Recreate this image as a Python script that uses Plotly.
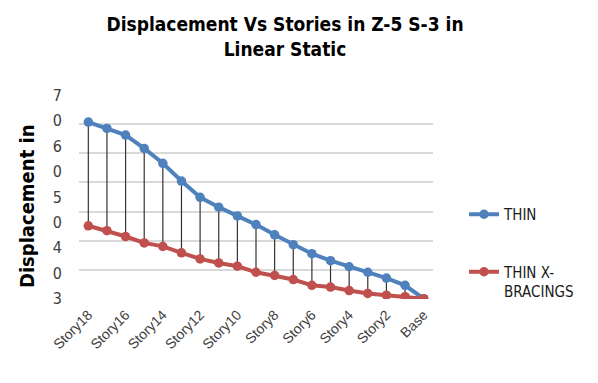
import plotly.graph_objects as go

# Story levels from top to base
stories = ["Story18", "Story17", "Story16", "Story15", "Story14", "Story13", "Story12",
           "Story11", "Story10", "Story9", "Story8", "Story7", "Story6", "Story5",
           "Story4", "Story3", "Story2", "Story1", "Base"]

# Displacement values per story (axis units)
thin = [6.08, 5.86, 5.63, 5.17, 4.66, 4.05, 3.49, 3.15, 2.85, 2.55, 2.20,
        1.86, 1.55, 1.31, 1.10, 0.91, 0.71, 0.46, 0.0]
thin_xbr = [2.51, 2.34, 2.14, 1.92, 1.80, 1.58, 1.37, 1.23, 1.12, 0.91, 0.80,
            0.66, 0.46, 0.40, 0.28, 0.18, 0.12, 0.07, 0.0]

# Value-axis labels (bottom to top) and gridline levels
y_tick_text = ["3", "0", "4", "0", "5", "0", "6", "0", "7"]
grid_levels = [0, 1, 2, 3, 4, 5, 6, 7]
x_tick_labels = stories[::2]

COND = "DejaVu Sans Condensed, Liberation Sans, Arial, sans-serif"
SANS = "Liberation Sans, Arial, sans-serif"
BLUE = "#4F81BD"
RED = "#C0504D"

fig = go.Figure()

# high-low drop lines joining both series at each story
dx, dy = [], []
for s, a, b in zip(stories, thin, thin_xbr):
    dx += [s, s, None]
    dy += [a, b, None]
fig.add_trace(go.Scatter(x=dx, y=dy, mode="lines", line=dict(color="#333333", width=1.2),
                         showlegend=False, hoverinfo="skip"))

fig.add_trace(go.Scatter(x=stories, y=thin, name="THIN", legendgroup="a",
                         mode="lines+markers",
                         line=dict(color=BLUE, width=4),
                         marker=dict(symbol="circle", size=9.5, color=BLUE)))
fig.add_trace(go.Scatter(x=stories, y=thin_xbr, name="THIN X-<br>BRACINGS", legendgroup="b",
                         mode="lines+markers",
                         line=dict(color=RED, width=4),
                         marker=dict(symbol="circle", size=9.5, color=RED)))

# invisible trace keeps the gridline axis active
fig.add_trace(go.Scatter(x=[stories[0]], y=[0], yaxis="y2", mode="markers",
                         marker=dict(opacity=0), showlegend=False, hoverinfo="skip"))

W, H = 598, 383
L, R, T, B = 79, 165, 95, 84
YR = [-0.01, 7.01]

fig.update_layout(
    width=W, height=H,
    margin=dict(l=L, r=R, t=T, b=B),
    paper_bgcolor="white", plot_bgcolor="white",
    title=dict(text="Displacement Vs Stories in Z-5 S-3 in<br>Linear Static",
               x=285 / W, xanchor="center", xref="container",
               y=1 - 31 / H, yanchor="middle", yref="container",
               font=dict(family=COND, size=19, color="#000000", weight="bold")),
    xaxis=dict(type="category", categoryarray=stories, range=[-0.5, 18.5],
               tickmode="array", tickvals=x_tick_labels, ticktext=x_tick_labels,
               tickangle=-45, showgrid=False, zeroline=False, showline=False,
               ticklabelstandoff=4,
               tickfont=dict(family=SANS, size=14, color="#404040")),
    yaxis=dict(range=YR, tickmode="array",
               tickvals=[k * 7 / 8 for k in range(9)], ticktext=y_tick_text,
               showgrid=False, zeroline=False, showline=False,
               ticklabelstandoff=16,
               tickfont=dict(family=COND, size=16, color="#404040")),
    yaxis2=dict(overlaying="y", range=YR, tickmode="array", tickvals=grid_levels,
                showticklabels=False, showgrid=True, gridcolor="#d9d9d9", gridwidth=1.5,
                zeroline=False, showline=False),
    legend=dict(x=1 + 31 / (W - L - R), xanchor="left", xref="paper",
                y=1 - 103 / (H - T - B), yanchor="top",
                valign="top", tracegroupgap=35,
                font=dict(family=COND, size=15, color="#1a1a1a")),
    showlegend=True,
    annotations=[dict(text="Displacement in", textangle=-90, showarrow=False,
                      xref="paper", yref="paper",
                      x=-52 / (W - L - R), xanchor="center",
                      y=1 - 112 / (H - T - B), yanchor="middle",
                      font=dict(family=COND, size=20, color="#000000", weight="bold"))],
)

fig.write_html("out.html")
